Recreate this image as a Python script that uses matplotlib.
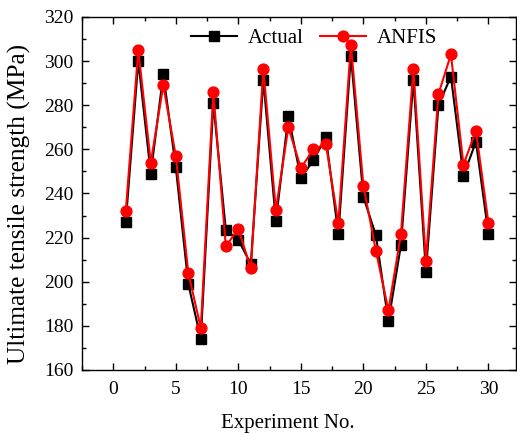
import matplotlib
matplotlib.use('agg')
from matplotlib import pyplot as plt
from matplotlib.ticker import MultipleLocator

# experiment numbers and strengths (MPa)
experiment = list(range(1, 31))
actual = [227, 300, 249, 294, 252, 199, 174, 281, 223.5, 219,
          208, 291.5, 227.5, 275, 247, 255, 265.5, 221.5, 302.5, 238.5,
          221, 182, 216.5, 291.5, 204.5, 280, 293, 248, 263.5, 221.5]
anfis = [232, 305, 254, 289, 257, 204, 179, 286, 216, 224,
         206, 296.5, 232.5, 270, 251.5, 260, 262.5, 226.5, 307.5, 243.5,
         214, 187, 221.5, 296.5, 209.5, 285, 303, 253, 268.5, 226.5]

plt.rcParams['font.family'] = ['Liberation Serif', 'DejaVu Serif']

fig = plt.figure(figsize=(5.17, 4.34), dpi=100)
ax = fig.add_axes([0.1586, 0.1475, 0.8394, 0.8135])

ax.plot(experiment, actual, color='black', lw=1.5, marker='s', markersize=6.5, label='Actual')
ax.plot(experiment, anfis, color='red', lw=1.5, marker='o', markersize=7.8, label='ANFIS')

ax.set_xlim(-2.5, 32.2)
ax.set_ylim(160, 320)
ax.xaxis.set_major_locator(MultipleLocator(5))
ax.xaxis.set_minor_locator(MultipleLocator(2.5))
ax.yaxis.set_major_locator(MultipleLocator(20))
ax.yaxis.set_minor_locator(MultipleLocator(10))
ax.tick_params(which='both', direction='in', top=True, right=True, labelsize=14)
ax.tick_params(which='major', length=5, width=1)
ax.tick_params(which='minor', length=3, width=1)
ax.tick_params(axis='y', pad=6)
ax.tick_params(axis='x', pad=8)
for s in ax.spines.values():
    s.set_linewidth(1.0)

ax.set_xlabel('Experiment No.', fontsize=15)
ax.xaxis.set_label_coords(0.475, -0.125)
ax.set_ylabel('Ultimate tensile strength (MPa)', fontsize=18.3)
ax.yaxis.set_label_coords(-0.118, 0.47)

ax.legend(loc='upper center', bbox_to_anchor=(0.535, 1.02), ncol=2, frameon=False,
          fontsize=15, handlelength=2.2, columnspacing=0.8, handletextpad=0.5)

plt.savefig('out.png', dpi=100)
